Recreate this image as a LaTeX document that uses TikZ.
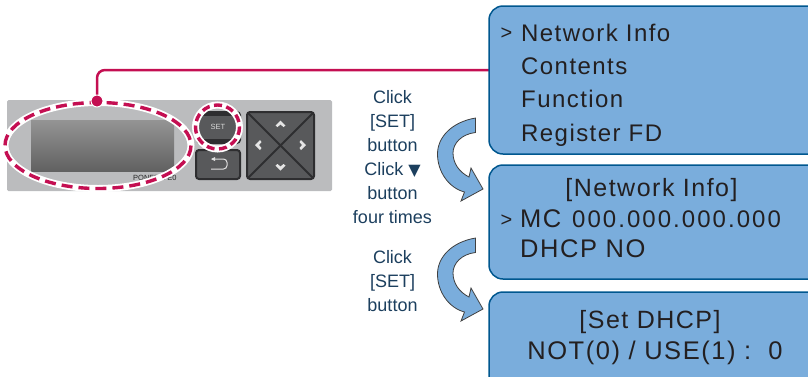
\documentclass[tikz,border=0pt]{standalone}
\usepackage{fontspec}
\setmainfont{Liberation Sans}
\newfontfamily\boxfont[LetterSpace=6]{Liberation Sans}
\newfontfamily\digitfont[LetterSpace=8.5]{Liberation Sans}
\newfontfamily\symfont{DejaVu Sans}
\definecolor{boxfill}{HTML}{7AADDC}
\definecolor{boxline}{HTML}{00578F}
\definecolor{mag}{HTML}{C40F52}
\definecolor{panelgray}{HTML}{BBBCBE}
\definecolor{btn}{HTML}{58595B}
\definecolor{btnedge}{HTML}{2E2E30}
\definecolor{labelc}{HTML}{1C3F5E}
\definecolor{txt}{HTML}{231F20}
\tikzset{
  x=1pt,y=-1pt,
  screen/.style={draw=boxline,line width=1.5pt,fill=boxfill,rounded corners=14pt},
  scrtext/.style={anchor=base west,text=txt,font=\boxfont\fontsize{24}{24}\selectfont,inner sep=0pt},
  scrbig/.style={anchor=base west,text=txt,font=\boxfont\fontsize{25.5}{25.5}\selectfont,inner sep=0pt},
  scrdigit/.style={anchor=base west,text=txt,font=\digitfont\fontsize{24}{24}\selectfont,inner sep=0pt},
  scrmark/.style={anchor=base west,text=txt,font=\fontsize{20}{20}\selectfont,inner sep=0pt},
  scrmid/.style={anchor=base,text=txt,font=\boxfont\fontsize{25}{25}\selectfont,inner sep=0pt},
  sidelabel/.style={anchor=base,text=labelc,font=\fontsize{18}{18}\selectfont,inner sep=0pt},
  bigarrow/.style={draw=black!75,line width=0.8pt,fill=boxfill,line join=miter},
  magdash/.style={draw=mag,line width=3.4pt,dash pattern=on 11pt off 6pt},
  halo/.style={draw=white,line width=7pt},
  keyglyph/.style={fill=white!90!black,draw=none}
}
\begin{document}
\begin{tikzpicture}
\useasboundingbox (0,0) rectangle (808,376);
% panel
\fill[panelgray,rounded corners=1.5pt] (7,100) rectangle (332,191);
\shade[top color=black!42,bottom color=black!62] (31,120) rectangle (174,171);
\node[anchor=base west,inner sep=0pt,font=\fontsize{7.5}{7.5}\selectfont,text=black!85] (model) at (133,180) {PQNFB17E0};
% set button
\fill[btnedge,rounded corners=4pt] (196,111) rectangle (241,144);
\fill[btn] (196,116) rectangle (241,139);
\node[inner sep=0pt,font=\fontsize{7.5}{7.5}\selectfont,text=white!85!black] (setlbl) at (218,127) {SET};
% back button
\fill[btn,draw=btnedge,line width=2pt,rounded corners=3pt] (196,150) rectangle (240,179);
\draw[white!88!black,line width=1pt,rounded corners=3.5pt] (212,159) -- (227,159) -- (227,169) -- (211,169);
\fill[white!88!black] (211,159) -- (215,157) -- (215,161) -- cycle;
% dpad
\fill[btn,draw=btnedge,line width=2pt,rounded corners=3pt] (247,112) rectangle (314,179);
\draw[btnedge,line width=2pt] (248,113) -- (313,178) (313,113) -- (248,178);
\fill[keyglyph] (280.5,120.5) -- (285.5,125.5) -- (283.5,127) -- (280.5,124.5) -- (277.5,127) -- (275.5,125.5) -- cycle;
\fill[keyglyph] (280.5,170.5) -- (285.5,165.5) -- (283.5,164) -- (280.5,166.5) -- (277.5,164) -- (275.5,165.5) -- cycle;
\fill[keyglyph] (255,145) -- (260,140) -- (261.5,142) -- (259,145) -- (261.5,148) -- (260,150) -- cycle;
\fill[keyglyph] (306,145) -- (301,140) -- (299.5,142) -- (302,145) -- (299.5,148) -- (301,150) -- cycle;
% highlight ellipses
\draw[halo] (98,145.5) ellipse [x radius=93,y radius=43];
\draw[magdash] (98,145.5) ellipse [x radius=93,y radius=43];
\draw[halo] (217.5,127) circle (22);
\draw[magdash,dash pattern=on 8pt off 4.5pt] (217.5,127) circle (22);
% connector
\node[circle,fill=mag,draw=white,line width=1pt,minimum size=12pt,inner sep=0pt] (dot) at (97,101) {};
\coordinate (lineend) at (489,70);
\draw[mag,line width=2.5pt,rounded corners=8pt] (dot) -- (97,70) -- (lineend);
% screens
\begin{scope}
\clip (0,0) rectangle (808,376);
\draw[screen] (489,6) rectangle (822,154);
\draw[screen] (489,165) rectangle (822,279);
\draw[screen] (489,292) rectangle (822,400);
\end{scope}
\node[scrmark] (a0) at (500.5,39.5) {>};
\node[scrtext] (a1) at (521,41) {Network Info};
\node[scrtext] (a2) at (521,74) {Contents};
\node[scrtext] (a3) at (521,107.5) {Function};
\node[scrtext] (a4) at (521,141.5) {Register FD};
\node[scrmid] (b0) at (651.5,196) {[Network Info]};
\node[scrmark] (b1) at (500.5,226) {>};
\node[scrbig] (b2) at (520,227) {MC};
\node[scrdigit] (b3) at (572,227) {000.000.000.000};
\node[scrbig] (b4) at (520,257.5) {DHCP NO};
\node[scrmid] (c0) at (650,328) {[Set DHCP]};
\node[scrmid,font=\boxfont\fontsize{25.5}{25.5}\selectfont] (c1) at (655,359.5) {NOT(0) / USE(1) :\ \ 0};
% labels
\node[sidelabel] (l1) at (392.5,103) {Click};
\node[sidelabel] (l2) at (392.5,127) {[SET]};
\node[sidelabel] (l3) at (392.5,151) {button};
\node[sidelabel] (l4) at (392.5,175) {Click {\symfont\fontsize{16}{16}\selectfont ▼}};
\node[sidelabel] (l5) at (392.5,199) {button};
\node[sidelabel] (l6) at (392.5,223) {four times};
\node[sidelabel] (l7) at (392.5,263) {Click};
\node[sidelabel] (l8) at (392.5,287) {[SET]};
\node[sidelabel] (l9) at (392.5,311) {button};
% curved arrows
\foreach \dy in {0,120}{
\begin{scope}[yshift=-\dy pt]
\draw[bigarrow] (475.5,118) .. controls (452,122) and (437.5,137) .. (437.5,154)
  .. controls (437.5,172) and (449,188) .. (464.5,192) -- (461,201) -- (483,189) -- (471,168) -- (469,177)
  .. controls (459,172) and (453,163) .. (453,153) .. controls (453,143) and (462,134) .. (475.5,132.5) -- cycle;
\end{scope}}
\end{tikzpicture}
\end{document}
